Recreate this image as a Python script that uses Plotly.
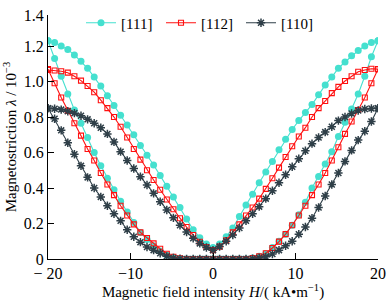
import plotly.graph_objects as go

H = [-20, -19.2, -18.4, -17.6, -16.8, -16, -15.2, -14.4, -13.6, -12.8, -12, -11.2, -10.4,
     -9.6, -8.8, -8, -7.2, -6.4, -5.6, -4.8, -4, -3.2, -2.4, -1.6, -0.8, 0, 0.8, 1.6, 2.4,
     3.2, 4, 4.8, 5.6, 6.4, 7.2, 8, 8.8, 9.6, 10.4, 11.2, 12, 12.8, 13.6, 14.4, 15.2, 16,
     16.8, 17.6, 18.4, 19.2, 20]

# [111] : upper (V-shaped) branch and lower (U-shaped) branch, both listed with ascending H
v111 = [1.23, 1.22, 1.20, 1.18, 1.15, 1.115, 1.075, 1.025, 0.975, 0.92, 0.865, 0.81, 0.755,
        0.70, 0.64, 0.585, 0.53, 0.47, 0.41, 0.35, 0.29, 0.225, 0.165, 0.12, 0.085, 0.065,
        0.085, 0.125, 0.175, 0.24, 0.305, 0.365, 0.43, 0.49, 0.55, 0.615, 0.675, 0.73, 0.78,
        0.825, 0.87, 0.925, 0.98, 1.025, 1.075, 1.11, 1.145, 1.175, 1.20, 1.22, 1.23]
u111 = [1.23, 1.13, 1.03, 0.93, 0.84, 0.765, 0.685, 0.60, 0.525, 0.455, 0.39, 0.325, 0.265,
        0.205, 0.15, 0.11, 0.075, 0.045, 0.022, 0.01, 0.003, 0, 0, 0, 0, 0,
        0, 0, 0, 0, 0, 0.005, 0.015, 0.03, 0.065, 0.10, 0.14, 0.19, 0.25, 0.32, 0.40, 0.465,
        0.535, 0.605, 0.69, 0.77, 0.845, 0.93, 1.03, 1.14, 1.23]

# [112]
v112 = [1.065, 1.062, 1.058, 1.05, 1.03, 1.005, 0.975, 0.94, 0.895, 0.85, 0.80, 0.745, 0.685,
        0.62, 0.56, 0.50, 0.445, 0.39, 0.335, 0.28, 0.23, 0.18, 0.135, 0.097, 0.068, 0.05,
        0.07, 0.105, 0.15, 0.195, 0.245, 0.29, 0.34, 0.395, 0.455, 0.515, 0.575, 0.635, 0.69,
        0.74, 0.80, 0.85, 0.89, 0.935, 0.97, 1.003, 1.03, 1.055, 1.065, 1.072, 1.07]
u112 = [1.07, 0.99, 0.91, 0.835, 0.765, 0.695, 0.62, 0.555, 0.485, 0.42, 0.36, 0.30, 0.245,
        0.195, 0.15, 0.118, 0.088, 0.058, 0.03, 0.013, 0.004, 0, 0, 0, 0, 0,
        0, 0, 0, 0, 0, 0.005, 0.015, 0.032, 0.062, 0.098, 0.14, 0.19, 0.245, 0.30, 0.36, 0.42,
        0.485, 0.555, 0.63, 0.705, 0.775, 0.84, 0.91, 0.99, 1.07]

# [110]
v110 = [0.85, 0.847, 0.842, 0.833, 0.822, 0.807, 0.787, 0.765, 0.74, 0.705, 0.66, 0.605, 0.555,
        0.51, 0.464, 0.417, 0.37, 0.323, 0.276, 0.232, 0.19, 0.152, 0.117, 0.088, 0.065, 0.05,
        0.07, 0.10, 0.135, 0.175, 0.215, 0.255, 0.295, 0.34, 0.385, 0.43, 0.475, 0.52, 0.565,
        0.61, 0.65, 0.685, 0.715, 0.745, 0.78, 0.80, 0.82, 0.837, 0.845, 0.848, 0.85]
u110 = [0.85, 0.79, 0.725, 0.655, 0.59, 0.525, 0.46, 0.40, 0.35, 0.30, 0.255, 0.215, 0.165,
        0.125, 0.095, 0.068, 0.05, 0.032, 0.015, 0.006, 0.002, 0, 0, 0, 0, 0,
        0, 0, 0, 0, 0, 0.002, 0.006, 0.012, 0.028, 0.05, 0.075, 0.10, 0.14, 0.18, 0.23, 0.29,
        0.355, 0.42, 0.485, 0.55, 0.612, 0.67, 0.72, 0.775, 0.85]

series = [
    ("[111]", v111, u111, "#45E0CF", dict(symbol="circle", size=7)),
    ("[112]", v112, u112, "#FF1010", dict(symbol="square-open", size=5, line=dict(width=1.1))),
    ("[110]", v110, u110, "#2F3F48", dict(symbol="asterisk-open", size=7, line=dict(width=1.5))),
]

fig = go.Figure()
for name, v, u, col, mk in series:
    xs = H + H[::-1]
    ys = v + u[::-1]
    m = dict(color=col, **mk)
    if "line" in mk:
        m["line"] = dict(color=col, width=mk["line"]["width"])
    fig.add_trace(go.Scatter(x=xs, y=ys, mode="lines+markers", name=name,
                             line=dict(color=col, width=1.1), marker=m))

font = "Liberation Serif, Times New Roman, serif"
fig.update_layout(
    width=390, height=307,
    margin=dict(l=48, r=12, t=15, b=48, autoexpand=False),
    paper_bgcolor="white", plot_bgcolor="white",
    font=dict(family=font, size=16, color="black"),
    showlegend=True,
    hovermode=False,
    legend=dict(orientation="h", x=0.1, y=1.035, xanchor="left", yanchor="top",
                bgcolor="rgba(255,255,255,0)", font=dict(size=15, family=font),
                itemwidth=30, entrywidth=35, tracegroupgap=0),
    xaxis=dict(range=[-20, 20], tickvals=[-20, -10, 0, 10, 20],
               ticktext=["\u2212 20", "\u221210", "0", "10", "20"],
               ticks="inside", ticklen=6, tickcolor="black", showline=True,
               linecolor="black", linewidth=1, showgrid=False, zeroline=False,
               automargin=False, tickfont=dict(size=16),
               title=dict(text="Magnetic field intensity <i>H</i>/( kA\u2022m<sup>\u22121</sup>)",
                          standoff=5, font=dict(size=15))),
    yaxis=dict(range=[0, 1.375], tickvals=[0, 0.2, 0.4, 0.6, 0.8, 1.0, 1.2, 1.375],
               ticktext=["0", "0.2", "0.4", "0.6", "0.8", "1.0", "1.2", "1.4"],
               ticks="inside", ticklen=6, tickcolor="black", showline=True,
               linecolor="black", linewidth=1, showgrid=False, zeroline=False,
               automargin=False, tickfont=dict(size=16),
               title=dict(text="Magnetostriction <i>\u03bb</i> / 10<sup>\u22123</sup>",
                          standoff=3, font=dict(size=15))),
)

fig.write_html("out.html", config={"displayModeBar": False},
               post_script="document.body.style.margin='0';document.body.style.overflow='hidden';")
